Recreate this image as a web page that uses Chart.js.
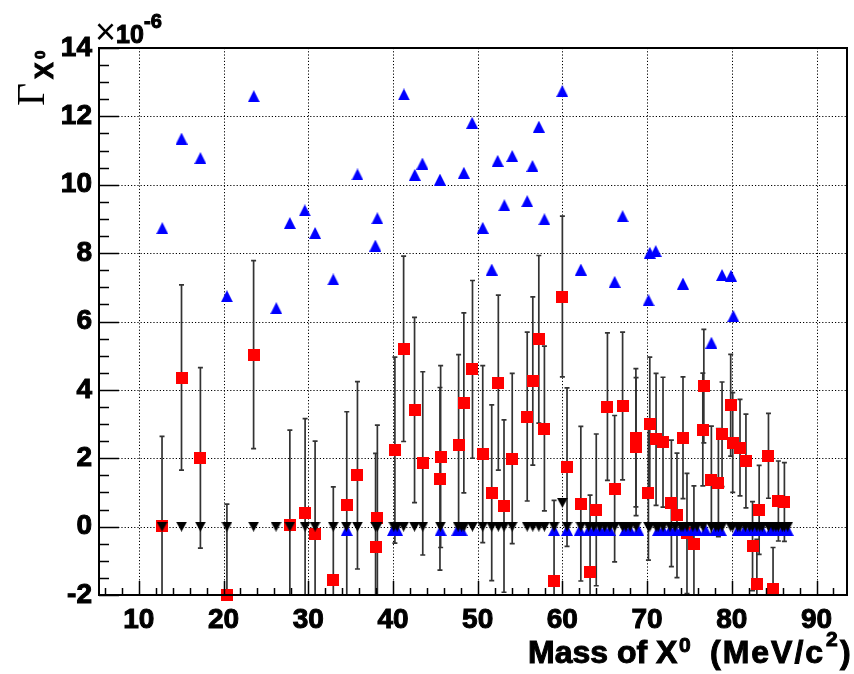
<!DOCTYPE html>
<html lang="en">
<head>
<meta charset="UTF-8">
<script src="https://cdn.jsdelivr.net/npm/chart.js"></script>
<title>Gamma X0 vs mass</title>
<style>
  html, body { margin: 0; padding: 0; background: #fff; }
</style>
</head>
<body>
<canvas id="gammaChart" width="854" height="674"></canvas>
<script>
// red squares: fitted width, with symmetric errors (units of 1e-6)
const redMass = [12.74, 15.04, 17.27, 20.40, 23.55, 27.83, 29.63, 30.81, 32.96, 34.55,
  35.81, 37.95, 38.16, 40.23, 41.26, 42.55, 43.52, 45.55, 45.63, 47.75,
  48.37, 49.39, 50.60, 51.66, 52.44, 53.11, 54.08, 55.85, 56.51, 57.22,
  57.88, 59.02, 60.00, 60.55, 62.18, 63.27, 64.00, 65.32, 66.17, 67.11,
  68.68, 68.70, 70.16, 70.32, 71.06, 71.88, 72.87, 73.53, 74.24, 74.71,
  75.53, 76.58, 76.70, 77.59, 78.42, 78.85, 79.87, 80.11, 80.97, 81.67,
  82.45, 82.96, 83.23, 84.33, 84.87, 85.50, 86.21];
const redGamma = [0.02, 4.36, 2.01, -2.00, 5.03, 0.05, 0.41, -0.23, -1.56, 0.62,
  1.50, -0.60, 0.26, 2.24, 5.20, 3.41, 1.85, 1.40, 2.05, 2.39,
  3.62, 4.60, 2.12, 0.99, 4.21, 0.60, 1.99, 3.22, 4.26, 5.48,
  2.87, -1.59, 6.73, 1.74, 0.67, -1.33, 0.49, 3.51, 1.11, 3.53,
  2.60, 2.34, 0.99, 2.99, 2.55, 2.47, 0.68, 0.33, 2.60, -0.20,
  -0.52, 2.84, 4.11, 1.36, 1.29, 2.70, 3.55, 2.46, 2.31, 1.92,
  -0.57, -1.69, 0.49, 2.07, -1.83, 0.75, 0.72];
const redErr = [2.62, 2.71, 2.64, 2.66, 2.75, 2.77, 2.75, 2.73, 2.72, 2.74,
  2.74, 2.74, 2.71, 2.72, 2.71, 2.71, 2.68, 2.67, 2.66, 2.64,
  2.63, 2.60, 2.59, 2.57, 2.56, 2.52, 2.49, 2.47, 2.46, 2.45,
  2.41, 2.36, 2.35, 2.32, 2.26, 2.25, 2.22, 2.16, 2.14, 2.16,
  2.02, 2.02, 1.97, 1.97, 1.93, 1.90, 1.85, 1.82, 1.78, 1.76,
  1.71, 1.65, 1.66, 1.58, 1.58, 1.53, 1.49, 1.46, 1.41, 1.37,
  1.30, 1.32, 1.30, 1.24, 1.22, 1.17, 1.15];

// blue up triangles: upper limits
const blueMass = [12.77, 15.04, 17.27, 20.40, 23.57, 26.23, 27.83, 29.59, 30.81, 32.96,
  35.81, 37.92, 38.16, 41.29, 42.58, 43.48, 45.55, 48.37, 49.35, 50.60,
  51.66, 52.36, 53.15, 54.08, 55.85, 56.47, 57.22, 57.88, 59.99, 62.18,
  66.17, 67.11, 70.17, 70.32, 71.02, 74.24, 77.59, 78.85, 79.91, 80.18,
  34.55, 40.00, 40.50, 45.63, 47.60, 48.10, 59.02, 60.55, 62.05, 63.10,
  63.70, 64.40, 65.00, 65.60, 67.40, 68.00, 68.96, 71.30, 71.90, 72.70,
  73.30, 74.00, 74.60, 75.40, 75.90, 76.90, 78.10, 78.70, 80.70, 81.50,
  82.10, 82.80, 83.60, 84.60, 85.20, 85.97, 86.60];
const blueGamma = [8.73, 11.35, 10.78, 6.74, 12.59, 6.39, 8.88, 9.25, 8.59, 7.23,
  10.30, 8.22, 9.02, 12.64, 10.29, 10.62, 10.15, 10.35, 11.81, 8.74,
  7.52, 10.70, 9.40, 10.84, 9.52, 10.55, 11.70, 8.99, 12.74, 7.52,
  7.16, 9.08, 6.62, 8.01, 8.06, 7.11, 5.38, 7.36, 7.34, 6.16,
  -0.10, -0.10, -0.10, -0.10, -0.10, -0.10, -0.10, -0.10, -0.10, -0.10,
  -0.10, -0.10, -0.10, -0.10, -0.10, -0.10, -0.10, -0.10, -0.10, -0.10,
  -0.10, -0.10, -0.10, -0.10, -0.10, -0.10, -0.10, -0.10, -0.10, -0.10,
  -0.10, -0.10, -0.10, -0.10, -0.10, -0.10, -0.10];

// black down triangles: lower limits
const blackMass = [12.74, 15.04, 17.27, 20.40, 23.55, 26.20, 27.83, 29.63, 30.81, 32.96,
  34.50, 35.81, 37.95, 38.16, 40.10, 40.50, 41.26, 42.55, 43.52, 45.60,
  47.70, 48.10, 48.40, 49.39, 50.60, 51.66, 52.44, 53.11, 54.08, 55.85,
  56.51, 57.22, 57.88, 59.02, 60.00, 60.55, 62.18, 63.10, 63.70, 64.40,
  65.00, 65.60, 66.17, 67.11, 67.50, 68.00, 68.70, 70.16, 70.32, 71.06,
  71.30, 71.88, 72.70, 73.30, 74.00, 74.24, 74.71, 75.40, 75.90, 76.60,
  77.59, 78.10, 78.42, 78.85, 79.87, 80.11, 80.70, 80.97, 81.60, 82.10,
  82.45, 82.96, 83.30, 83.60, 84.33, 84.87, 85.20, 85.50, 85.97, 86.21, 86.60];
const blackGamma = [0, 0, 0, 0, 0, 0, 0, 0, 0, 0,
  0, 0, 0, 0, 0, 0, 0, 0, 0, 0,
  0, 0, 0, 0, 0, 0, 0, 0, 0, 0,
  0, 0, 0, 0, 0.70, 0, 0, 0, 0, 0,
  0, 0, 0, 0, 0, 0, 0, 0, 0, 0,
  0, 0, 0, 0, 0, 0, 0, 0, 0, 0,
  0, 0, 0, 0, 0, 0, 0, 0, 0, 0,
  0, 0, 0, 0, 0, 0, 0, 0, 0, 0, 0];

const xTickValues = [10, 20, 30, 40, 50, 60, 70, 80, 90];
const yTickValues = [-2, 0, 2, 4, 6, 8, 10, 12, 14];

const FONT = '"Liberation Sans", Arial, Helvetica, sans-serif';

function marker(kind, w, h, color) {
  const c = document.createElement('canvas');
  c.width = w; c.height = h;
  const g = c.getContext('2d');
  g.fillStyle = color;
  g.beginPath();
  if (kind === 'up') { g.moveTo(w / 2, 0); g.lineTo(w, h); g.lineTo(0, h); }
  else if (kind === 'down') { g.moveTo(0, 0); g.lineTo(w, 0); g.lineTo(w / 2, h); }
  else g.rect(0, 0, w, h);
  g.closePath();
  g.fill();
  return c;
}

const toPoints = (xs, ys) => xs.map((v, i) => ({ x: v, y: ys[i] }));

// heavier text, closer to the ROOT bold Helvetica
function boldText(ctx, s, x, y) {
  ctx.strokeText(s, x, y);
  ctx.fillText(s, x, y);
}

// grid + error bars under the markers, axes and ticks on top
const frameAndErrors = {
  id: 'frameAndErrors',
  beforeDatasetsDraw(chart) {
    const { ctx, chartArea: a, scales: { x, y } } = chart;
    ctx.save();
    ctx.strokeStyle = '#000';
    ctx.lineWidth = 1;
    ctx.setLineDash([1.2, 2]);
    xTickValues.forEach(v => {
      const px = Math.round(x.getPixelForValue(v)) + 0.5;
      ctx.beginPath(); ctx.moveTo(px, a.top); ctx.lineTo(px, a.bottom); ctx.stroke();
    });
    yTickValues.forEach(v => {
      const py = Math.round(y.getPixelForValue(v)) + 0.5;
      ctx.beginPath(); ctx.moveTo(a.left, py); ctx.lineTo(a.right, py); ctx.stroke();
    });
    ctx.setLineDash([]);
    ctx.beginPath();
    ctx.rect(a.left, a.top, a.right - a.left, a.bottom - a.top);
    ctx.clip();
    ctx.strokeStyle = '#333';
    ctx.lineWidth = 1.7;
    redMass.forEach((m, i) => {
      const px = x.getPixelForValue(m);
      const top = y.getPixelForValue(redGamma[i] + redErr[i]);
      const bot = y.getPixelForValue(redGamma[i] - redErr[i]);
      ctx.beginPath();
      ctx.moveTo(px, top); ctx.lineTo(px, bot);
      ctx.moveTo(px - 2.5, top); ctx.lineTo(px + 2.5, top);
      ctx.moveTo(px - 2.5, bot); ctx.lineTo(px + 2.5, bot);
      ctx.stroke();
    });
    ctx.restore();
  },
  afterDatasetsDraw(chart) {
    const { ctx, chartArea: a, scales: { x, y } } = chart;
    ctx.save();
    ctx.strokeStyle = '#000';
    ctx.lineWidth = 1.5;
    for (let v = 6; v <= 92; v += 2) {
      const px = Math.round(x.getPixelForValue(v)) + 0.5;
      const len = v % 10 === 0 ? 14 : 7;
      ctx.beginPath(); ctx.moveTo(px, a.bottom); ctx.lineTo(px, a.bottom - len); ctx.stroke();
    }
    for (let v = -2; v <= 14; v += 0.5) {
      const py = Math.round(y.getPixelForValue(v)) + 0.5;
      const len = v % 2 === 0 ? 20 : 10;
      ctx.beginPath(); ctx.moveTo(a.left, py); ctx.lineTo(a.left + len, py); ctx.stroke();
    }
    ctx.lineWidth = 2;
    ctx.strokeRect(a.left, a.top, a.right - a.left, a.bottom - a.top);
    ctx.restore();
  },
  afterDraw(chart) {
    const ctx = chart.ctx;
    ctx.save();
    ctx.fillStyle = '#000';
    ctx.strokeStyle = '#000';
    ctx.lineWidth = 1;
    ctx.textBaseline = 'alphabetic';
    ctx.textAlign = 'left';
    // x axis title
    ctx.font = 'bold 32px ' + FONT;
    boldText(ctx, 'Mass of X', 528, 663);
    ctx.font = 'bold 21px ' + FONT;
    boldText(ctx, '0', 679, 652);
    ctx.font = 'bold 32px ' + FONT;
    ctx.letterSpacing = '2px';
    boldText(ctx, '(MeV/c', 710, 663);
    ctx.letterSpacing = '0px';
    ctx.font = 'bold 21px ' + FONT;
    boldText(ctx, '2', 826, 646);
    ctx.font = 'bold 32px ' + FONT;
    boldText(ctx, ')', 840, 663);
    // exponent
    ctx.font = '36px ' + FONT;
    ctx.fillText('\u00d7', 95, 44);
    ctx.font = 'bold 25px ' + FONT;
    boldText(ctx, '10', 116, 43);
    ctx.font = 'bold 20px ' + FONT;
    boldText(ctx, '-6', 144, 28);
    // y axis title
    ctx.translate(44, 106);
    ctx.rotate(-Math.PI / 2);
    ctx.font = '40px "Liberation Serif", "Times New Roman", serif';
    ctx.fillText('\u0393', 0, 0);
    ctx.font = 'bold 25px ' + FONT;
    boldText(ctx, 'X', 27, 9);
    ctx.font = 'bold 15px ' + FONT;
    boldText(ctx, '0', 47, 1);
    ctx.restore();
  }
};

const tickFont = { family: FONT, size: 28, weight: 'bold' };

new Chart(document.getElementById('gammaChart'), {
  type: 'scatter',
  data: {
    datasets: [
      { label: 'lower', data: toPoints(blackMass, blackGamma),
        pointStyle: marker('down', 11, 10, '#000'), pointRadius: 6, clip: false },
      { label: 'upper', data: toPoints(blueMass, blueGamma),
        pointStyle: marker('up', 12, 12, '#0000ff'), pointRadius: 6, clip: false },
      { label: 'width', data: toPoints(redMass, redGamma),
        pointStyle: marker('sq', 12, 12, '#ff0000'), pointRadius: 6, clip: false }
    ]
  },
  options: {
    responsive: false,
    animation: false,
    devicePixelRatio: 1,
    layout: { padding: { top: 48, right: 2, left: 0, bottom: 0 } },
    plugins: { legend: { display: false }, tooltip: { enabled: false } },
    scales: {
      x: {
        type: 'linear', min: 5.3, max: 93.6,
        afterBuildTicks: s => { s.ticks = xTickValues.map(v => ({ value: v })); },
        afterFit: s => { s.height = 79; },
        grid: { display: false, drawTicks: false },
        border: { display: false },
        ticks: { font: tickFont, color: '#000', padding: 8, maxRotation: 0, autoSkip: false,
                 textStrokeWidth: 1, textStrokeColor: '#000' }
      },
      y: {
        type: 'linear', min: -2, max: 14,
        afterBuildTicks: s => { s.ticks = yTickValues.map(v => ({ value: v })); },
        afterFit: s => { s.width = 99; },
        grid: { display: false, drawTicks: false },
        border: { display: false },
        ticks: { font: tickFont, color: '#000', padding: 7, autoSkip: false,
                 textStrokeWidth: 1, textStrokeColor: '#000' }
      }
    }
  },
  plugins: [frameAndErrors]
});
</script>
</body>
</html>
